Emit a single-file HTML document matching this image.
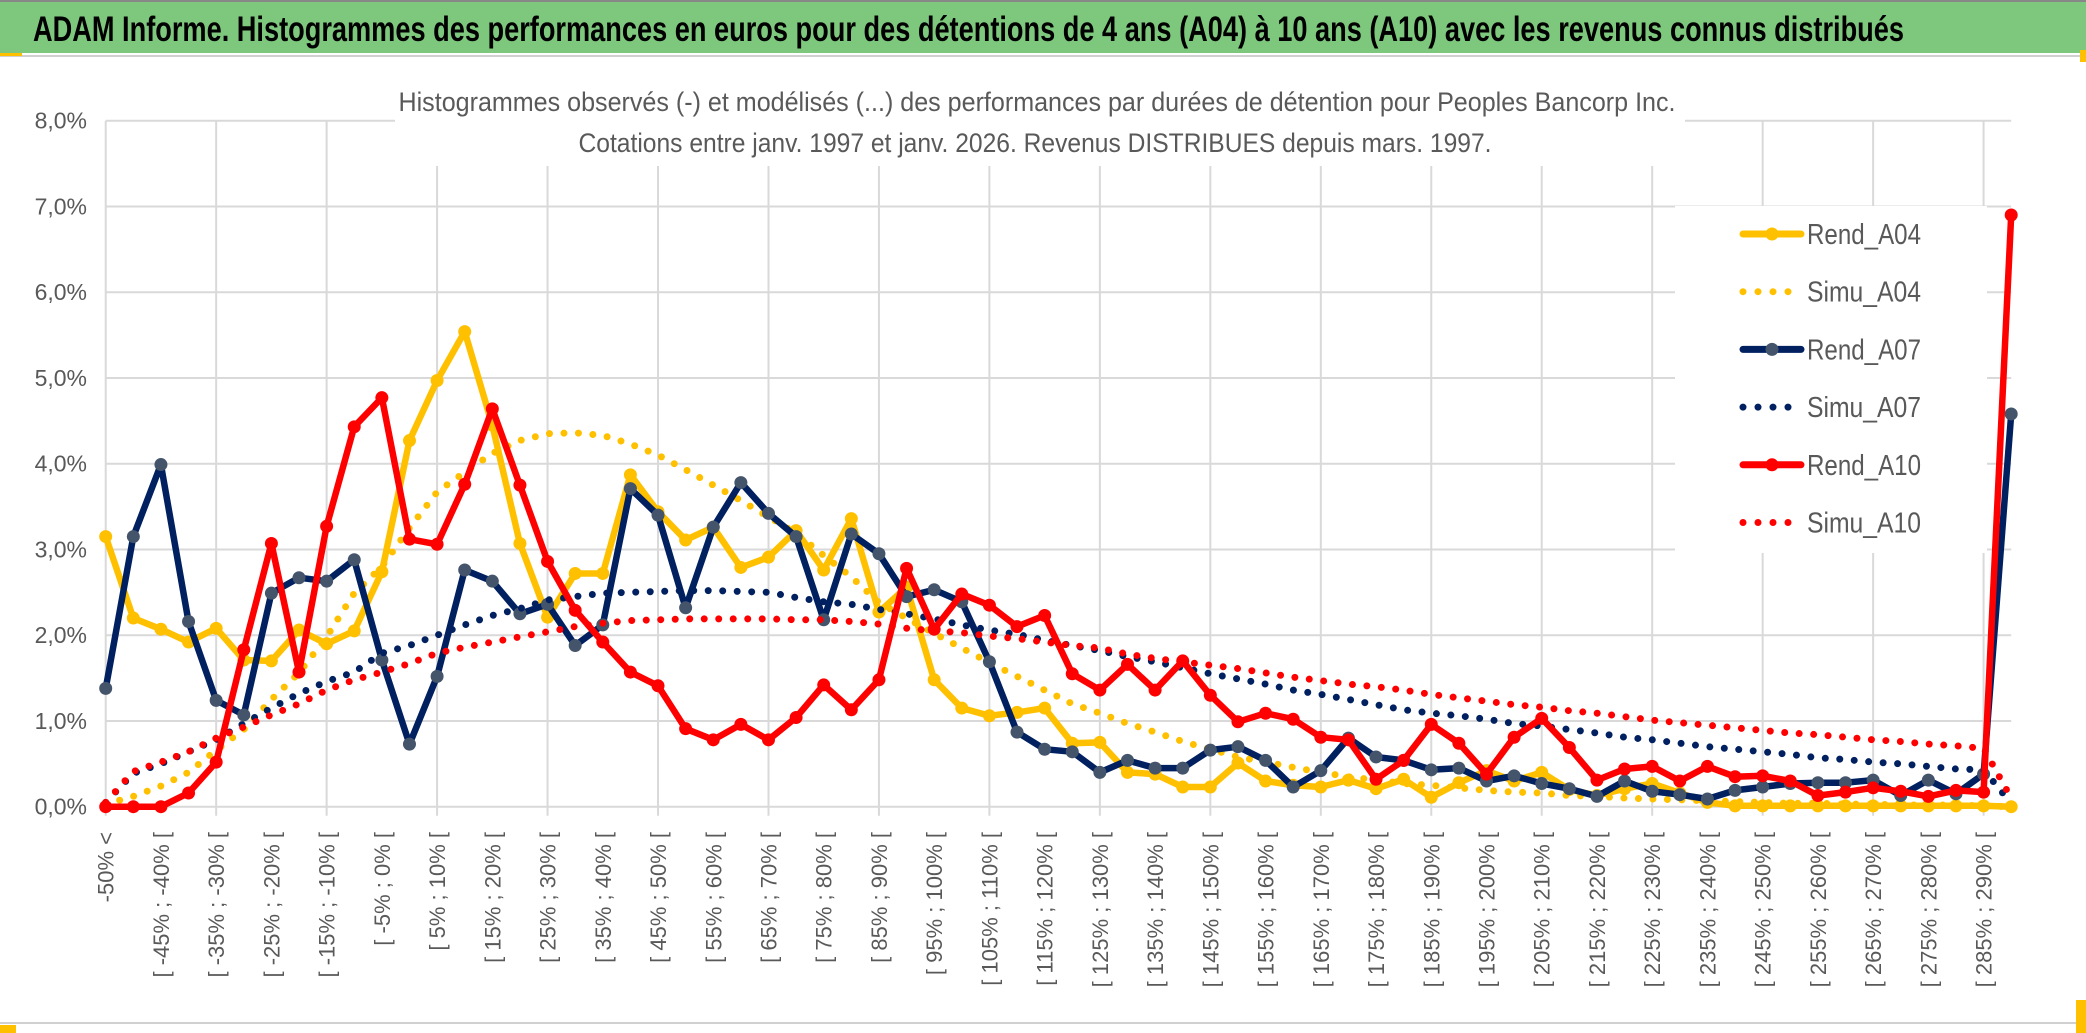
<!DOCTYPE html>
<html><head><meta charset="utf-8">
<style>
html,body{margin:0;padding:0;background:#fff;}
svg{display:block;}
text{font-family:"Liberation Sans Narrow","Liberation Sans",sans-serif;}
</style></head>
<body>
<svg id="chart" width="2086" height="1033" viewBox="0 0 2086 1033" xmlns="http://www.w3.org/2000/svg">
  <rect x="0" y="0" width="2086" height="1033" fill="#fff"/>
  <rect x="0" y="0" width="2086" height="53" fill="#7EC87E"/>
  <line x1="0" y1="1" x2="2086" y2="1" stroke="#888" stroke-width="2"/>
  <text x="33" y="41" font-size="35" font-weight="bold" fill="#000" textLength="1871" lengthAdjust="spacingAndGlyphs">ADAM Informe. Histogrammes des performances en euros pour des détentions de 4 ans (A04) à 10 ans (A10) avec les revenus connus distribués</text>
  <line x1="0" y1="56" x2="2086" y2="56" stroke="#D0D0D0" stroke-width="2"/>
  <rect x="0" y="53" width="22" height="3" fill="#FFC000"/>
  <rect x="2080" y="50" width="6" height="12" fill="#FFC000"/>
  <line x1="0" y1="1023" x2="2086" y2="1023" stroke="#D0D0D0" stroke-width="2"/>
  <rect x="0" y="1025" width="16" height="8" fill="#FFC000"/>
  <rect x="2076" y="1000" width="10" height="33" fill="#FFC000"/>
  <g id="grid"></g>
  <g id="yaxis"></g>
  <g id="xaxis"></g>
  <rect x="395" y="58" width="1290" height="108" fill="#fff"/>
  <text x="1037" y="111" font-size="27" fill="#595959" text-anchor="middle" textLength="1277" lengthAdjust="spacingAndGlyphs">Histogrammes observés (-) et modélisés (...) des performances par durées de détention pour Peoples Bancorp Inc.</text>
  <text x="1035" y="152" font-size="27" fill="#595959" text-anchor="middle" textLength="913" lengthAdjust="spacingAndGlyphs">Cotations entre janv. 1997 et janv. 2026. Revenus DISTRIBUES depuis mars. 1997.</text>
  <g id="series"></g>
  <rect x="1675" y="206" width="312" height="347" fill="#fff"/>
  <g id="legend"></g>
</svg>
<script>
const categories = ["-50% <","[ -50% ; -45% [","[ -45% ; -40% [","[ -40% ; -35% [","[ -35% ; -30% [","[ -30% ; -25% [","[ -25% ; -20% [","[ -20% ; -15% [","[ -15% ; -10% [","[ -10% ; -5% [",
"[ -5% ; 0% [","[ 0% ; 5% [","[ 5% ; 10% [","[ 10% ; 15% [","[ 15% ; 20% [","[ 20% ; 25% [","[ 25% ; 30% [","[ 30% ; 35% [","[ 35% ; 40% [","[ 40% ; 45% [",
"[ 45% ; 50% [","[ 50% ; 55% [","[ 55% ; 60% [","[ 60% ; 65% [","[ 65% ; 70% [","[ 70% ; 75% [","[ 75% ; 80% [","[ 80% ; 85% [","[ 85% ; 90% [","[ 90% ; 95% [",
"[ 95% ; 100% [","[ 100% ; 105% [","[ 105% ; 110% [","[ 110% ; 115% [","[ 115% ; 120% [","[ 120% ; 125% [","[ 125% ; 130% [","[ 130% ; 135% [","[ 135% ; 140% [","[ 140% ; 145% [",
"[ 145% ; 150% [","[ 150% ; 155% [","[ 155% ; 160% [","[ 160% ; 165% [","[ 165% ; 170% [","[ 170% ; 175% [","[ 175% ; 180% [","[ 180% ; 185% [","[ 185% ; 190% [","[ 190% ; 195% [",
"[ 195% ; 200% [","[ 200% ; 205% [","[ 205% ; 210% [","[ 210% ; 215% [","[ 215% ; 220% [","[ 220% ; 225% [","[ 225% ; 230% [","[ 230% ; 235% [","[ 235% ; 240% [","[ 240% ; 245% [",
"[ 245% ; 250% [","[ 250% ; 255% [","[ 255% ; 260% [","[ 260% ; 265% [","[ 265% ; 270% [","[ 270% ; 275% [","[ 275% ; 280% [","[ 280% ; 285% [","[ 285% ; 290% [","[ 290% ; 295% ["];
const yTicks = [0,1,2,3,4,5,6,7,8];
const yTickLabels = ["0,0%","1,0%","2,0%","3,0%","4,0%","5,0%","6,0%","7,0%","8,0%"];
const rendA04 = [3.15,2.20,2.07,1.92,2.08,1.71,1.70,2.06,1.90,2.05, 2.74,4.27,4.97,5.54,4.45,3.07,2.21,2.72,2.72,3.87, 3.44,3.11,3.26,2.79,2.91,3.22,2.76,3.36,2.27,2.56, 1.48,1.15,1.06,1.10,1.15,0.74,0.75,0.40,0.38,0.23, 0.23,0.51,0.30,0.25,0.23,0.31,0.21,0.32,0.11,0.28, 0.42,0.30,0.40,0.20,0.13,0.21,0.27,0.16,0.05,0.01, 0.01,0.01,0.01,0.01,0.01,0.01,0.01,0.01,0.01,0.0];
const simuA04 = [0.03,0.12,0.24,0.40,0.66,0.90,1.25,1.56,1.98,2.49, 2.80,3.25,3.67,3.90,4.12,4.27,4.35,4.36,4.33,4.23, 4.10,3.93,3.75,3.57,3.38,3.19,2.93,2.68,2.38,2.20, 2.02,1.85,1.68,1.52,1.36,1.20,1.09,0.97,0.87,0.76, 0.67,0.58,0.52,0.46,0.40,0.35,0.31,0.27,0.25,0.22, 0.19,0.17,0.16,0.13,0.12,0.10,0.09,0.08,0.07,0.06, 0.05,0.04,0.04,0.03,0.03,0.02,0.02,0.02,0.01,0.0];
const rendA07 = [1.38,3.15,3.99,2.16,1.24,1.07,2.49,2.67,2.63,2.88, 1.71,0.73,1.52,2.76,2.63,2.25,2.36,1.88,2.12,3.71, 3.40,2.32,3.26,3.78,3.42,3.15,2.18,3.18,2.95,2.45, 2.53,2.39,1.69,0.87,0.67,0.64,0.40,0.54,0.45,0.45, 0.66,0.70,0.54,0.23,0.42,0.80,0.58,0.54,0.43,0.45, 0.30,0.36,0.27,0.21,0.12,0.30,0.18,0.14,0.09,0.19, 0.23,0.27,0.28,0.28,0.31,0.13,0.31,0.15,0.38,4.58];
const simuA07 = [0.05,0.39,0.50,0.64,0.78,0.97,1.15,1.32,1.46,1.57, 1.79,1.88,2.00,2.12,2.23,2.31,2.41,2.45,2.49,2.50, 2.51,2.52,2.52,2.51,2.50,2.44,2.39,2.36,2.30,2.25, 2.19,2.12,2.06,2.01,1.94,1.88,1.82,1.75,1.69,1.62, 1.55,1.49,1.43,1.36,1.31,1.25,1.19,1.13,1.09,1.06, 1.02,0.97,0.94,0.90,0.86,0.81,0.78,0.74,0.70,0.67, 0.64,0.61,0.57,0.55,0.52,0.50,0.47,0.44,0.43,0.04];
const rendA10 = [0,0,0,0.16,0.52,1.83,3.07,1.57,3.27,4.43, 4.77,3.12,3.06,3.76,4.64,3.75,2.86,2.29,1.92,1.57, 1.41,0.91,0.78,0.96,0.78,1.04,1.42,1.13,1.48,2.78, 2.07,2.48,2.35,2.10,2.23,1.55,1.36,1.66,1.36,1.70, 1.30,0.99,1.09,1.02,0.81,0.78,0.32,0.54,0.96,0.74, 0.38,0.81,1.03,0.69,0.31,0.44,0.47,0.30,0.47,0.35, 0.36,0.30,0.13,0.17,0.22,0.18,0.12,0.19,0.17,6.90];
const simuA10 = [0.05,0.41,0.52,0.64,0.80,0.93,1.07,1.20,1.36,1.48, 1.57,1.67,1.79,1.86,1.92,1.98,2.04,2.10,2.14,2.17, 2.18,2.19,2.19,2.19,2.19,2.18,2.18,2.16,2.13,2.08, 2.05,2.03,1.99,1.96,1.92,1.88,1.85,1.78,1.73,1.69, 1.65,1.61,1.56,1.51,1.47,1.43,1.40,1.36,1.31,1.27, 1.23,1.19,1.16,1.12,1.09,1.05,1.01,0.98,0.95,0.92, 0.89,0.86,0.84,0.81,0.78,0.76,0.73,0.71,0.68,0.10];
const seriesNames = ["Rend_A04","Simu_A04","Rend_A07","Simu_A07","Rend_A10","Simu_A10"];

const NS = "http://www.w3.org/2000/svg";
const X0 = 105.7, X1 = 2011.2, Y0 = 806.7, Y8 = 120.7;
const N = categories.length;
function xPos(i){ return X0 + (X1 - X0) * i / (N - 1); }
function yPos(v){ return Y0 - (Y0 - Y8) * v / 8; }
function mk(tag, attrs, parent){ const e = document.createElementNS(NS, tag); for (const k in attrs) e.setAttribute(k, attrs[k]); parent.appendChild(e); return e; }

const grid = document.getElementById('grid');
yTicks.forEach(function(t){
  const l = mk('line', {x1:X0, x2:X1, y1:yPos(t), y2:yPos(t), stroke:'#D9D9D9', 'stroke-width':2}, grid);
  
  
});
for (let i = 0; i < N; i += 4) {
  const l = mk('line', {x1:xPos(i), x2:xPos(i), y1:yPos(8), y2:Y0 + 9, stroke:'#D9D9D9', 'stroke-width':2}, grid);
  
  
}
const yaxis = document.getElementById('yaxis');
yTicks.forEach(function(t, k){
  const tx = mk('text', {x:87, y:yPos(t) + 8, 'font-size':23, fill:'#595959', 'text-anchor':'end'}, yaxis);
  tx.textContent = yTickLabels[k];
  
  
});
const xaxis = document.getElementById('xaxis');
for (let i = 0; i < N; i += 2) {
  const x = xPos(i) + 8, y = 832;
  const tx = mk('text', {x:x, y:y, 'font-size':22, fill:'#595959', 'text-anchor':'end', transform:'rotate(-90 ' + x + ' ' + y + ')', 'font-family':'"Liberation Sans", sans-serif'}, xaxis);
  tx.textContent = categories[i];
  
  
}

const sg = document.getElementById('series');
function pathD(vals){ return vals.map(function(v, i){ return (i ? 'L' : 'M') + xPos(i).toFixed(1) + ' ' + yPos(v).toFixed(1); }).join(' '); }
function drawSolid(vals, color, mcolor, name){
  const g = mk('g', {}, sg);
  
  
  const p = mk('path', {d:pathD(vals), fill:'none', stroke:color, 'stroke-width':6.5, 'stroke-linejoin':'round'}, g);
  
  
  vals.forEach(function(v, i){
    const c = mk('circle', {cx:xPos(i), cy:yPos(v), r:6.5, fill:mcolor}, g);
    
    
  });
}
function drawDotted(vals, color, name){
  const p = mk('path', {d:pathD(vals), fill:'none', stroke:color, 'stroke-width':7, 'stroke-linecap':'round', 'stroke-dasharray':'0 14.5'}, sg);
  
  
}
drawSolid(rendA04, '#FFC000', '#FFC000', 'rend-a04');
drawDotted(simuA04, '#FFC000', 'simu-a04');
drawSolid(rendA07, '#002060', '#44546A', 'rend-a07');
drawDotted(simuA07, '#002060', 'simu-a07');
drawSolid(rendA10, '#FF0000', '#FF0000', 'rend-a10');
drawDotted(simuA10, '#FF0000', 'simu-a10');

const lg = document.getElementById('legend');
const lColors = ['#FFC000','#FFC000','#002060','#002060','#FF0000','#FF0000'];
const lMarkers = ['#FFC000','','#44546A','','#FF0000',''];
seriesNames.forEach(function(nm, k){
  const cy = 234 + k * 57.7;
  const g = mk('g', {}, lg);
  
  
  if (k % 2 === 0) {
    mk('line', {x1:1743, x2:1801, y1:cy, y2:cy, stroke:lColors[k], 'stroke-width':7, 'stroke-linecap':'round'}, g);
    mk('circle', {cx:1772, cy:cy, r:6.5, fill:lMarkers[k]}, g);
  } else {
    mk('line', {x1:1743, x2:1801, y1:cy, y2:cy, stroke:lColors[k], 'stroke-width':7, 'stroke-linecap':'round', 'stroke-dasharray':'0 15'}, g);
  }
  const t = mk('text', {x:1807, y:cy + 10, 'font-size':29, fill:'#595959', textLength:114, lengthAdjust:'spacingAndGlyphs'}, g);
  t.textContent = nm;
});
</script>
</body></html>
